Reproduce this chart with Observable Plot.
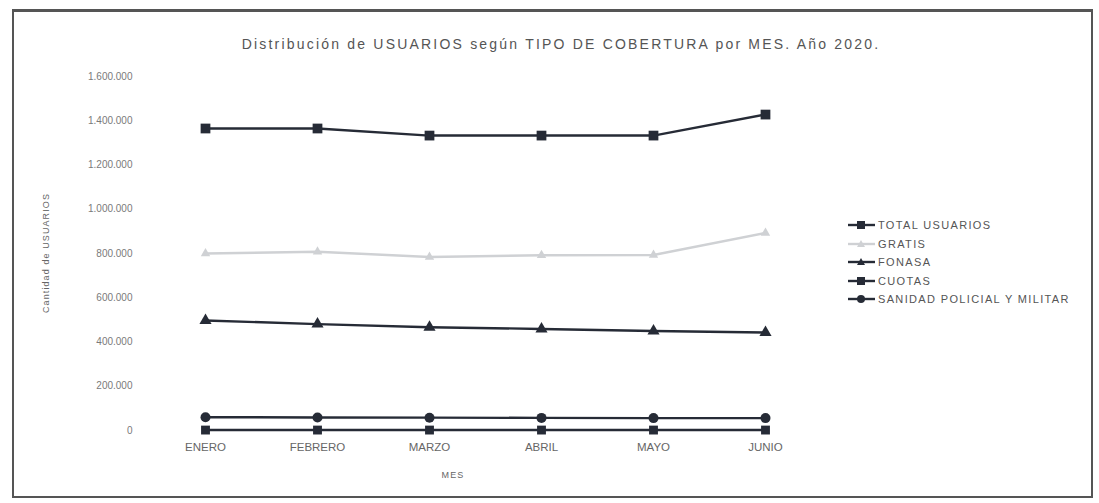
<!DOCTYPE html>
<html><head><meta charset="utf-8">
<script src="https://cdn.jsdelivr.net/npm/d3@7"></script>
<script src="https://cdn.jsdelivr.net/npm/@observablehq/plot@0.6"></script>
<style>
body{margin:0;background:#fff;font-family:"Liberation Sans",Arial,sans-serif;}
#wrap{position:relative;width:1099px;height:503px;overflow:hidden;}
#frame{position:absolute;left:12px;top:9px;width:1081px;height:489px;border:2px solid #555;border-top-width:3px;box-sizing:border-box;pointer-events:none;}
#title{position:absolute;left:0;width:1122px;top:36px;text-align:center;font-size:14px;letter-spacing:2.2px;color:#555;white-space:nowrap;}
#ytitle{position:absolute;left:46px;top:253px;transform:translate(-50%,-50%) rotate(-90deg);font-size:9px;letter-spacing:1.1px;color:#666;white-space:nowrap;}
#xtitle{position:absolute;left:453px;top:470px;transform:translateX(-50%);font-size:9px;letter-spacing:1.1px;color:#666;}
#legend{position:absolute;left:848px;top:216px;font-size:11px;letter-spacing:1.35px;color:#555;}
#legend div{height:18.5px;display:flex;align-items:center;white-space:nowrap;}
#legend svg{margin-right:3px;}
</style></head>
<body><div id="wrap"><div id="chart"></div><div id="title"></div><div id="ytitle"></div><div id="xtitle"></div><div id="legend"></div><div id="frame"></div></div>
<script>
const months = ["ENERO","FEBRERO","MARZO","ABRIL","MAYO","JUNIO"];
const seriesNames = ["TOTAL USUARIOS","GRATIS","FONASA","CUOTAS","SANIDAD POLICIAL Y MILITAR"];
const total   = [1365000,1365000,1333000,1333000,1333000,1428000];
const gratis  = [800000,808000,784000,792000,793000,893000];
const fonasa  = [497000,481000,467000,459000,450000,443000];
const cuotas  = [2000,2000,2000,2000,2000,2000];
const sanidad = [60000,59000,58000,57000,56000,56000];
const yTicks = [0,200000,400000,600000,800000,1000000,1200000,1400000,1600000];
const titleText = "Distribución de USUARIOS según TIPO DE COBERTURA por MES. Año 2020.";
const yTitle = "Cantidad de USUARIOS";
const xTitle = "MES";

const colors = {"TOTAL USUARIOS":"#262b36","GRATIS":"#cfd1d4","FONASA":"#262b36","CUOTAS":"#262b36","SANIDAD POLICIAL Y MILITAR":"#262b36"};
const symbols = {"TOTAL USUARIOS":"square","GRATIS":"triangle","FONASA":"triangle","CUOTAS":"square","SANIDAD POLICIAL Y MILITAR":"circle"};
const sizes = {"TOTAL USUARIOS":5.5,"GRATIS":3.5,"FONASA":4.5,"CUOTAS":5,"SANIDAD POLICIAL Y MILITAR":5};
const valuesBy = [total,gratis,fonasa,cuotas,sanidad];
const data = [];
seriesNames.forEach((s,i)=>months.forEach((m,j)=>data.push({serie:s,mes:m,v:valuesBy[i][j]})));

const loc = d3.formatLocale({decimal:",",thousands:".",grouping:[3],currency:["$",""]});
const fmt = loc.format(",d");

const chart = Plot.plot({
  width:1099, height:503,
  marginLeft:140, marginRight:291, marginTop:76, marginBottom:73,
  style:{fontFamily:"Liberation Sans, Arial, sans-serif", color:"#666", background:"transparent"},
  x:{type:"point", domain:months, range:[203,766], padding:0, label:null},
  y:{domain:[0,1600000], ticks:yTicks, label:null},
  marks:[
    Plot.ruleY(yTicks,{y:d=>d, x1:()=>140, x2:()=>808, stroke:"#e3e3e3", strokeWidth:1}),
    Plot.axisY({ticks:yTicks, tickFormat:fmt, tickSize:0, tickPadding:8, fontSize:10, fill:"#7a7a7a", label:null, style:{letterSpacing:"1.4px"}}),
    Plot.axisX({tickSize:0, tickPadding:12, fontSize:11.5, fill:"#666", label:null, style:{letterSpacing:"1.2px"}}),
    Plot.line(data,{x:"mes", y:"v", z:"serie", stroke:d=>colors[d.serie], strokeWidth:2.4}),
    ...seriesNames.map(s=>Plot.dot(data.filter(d=>d.serie===s),{x:"mes", y:"v", symbol:()=>symbols[s], r:sizes[s], fill:colors[s], stroke:"none"}))
  ]
});
document.getElementById("chart").appendChild(chart);
document.getElementById("title").textContent = titleText;
document.getElementById("ytitle").textContent = yTitle;
document.getElementById("xtitle").textContent = xTitle;

const leg = document.getElementById("legend");
seriesNames.forEach(s=>{
  const row = document.createElement("div");
  const c = colors[s];
  let mk;
  const sym = symbols[s];
  if(sym==="square") mk = `<rect x="9" y="3" width="8" height="8" fill="${c}"/>`;
  else if(sym==="triangle") mk = `<path d="M13 3 L17 10 L9 10 Z" fill="${c}"/>`;
  else mk = `<circle cx="13" cy="7" r="4" fill="${c}"/>`;
  row.innerHTML = `<svg width="27" height="14"><line x1="0" x2="27" y1="7" y2="7" stroke="${c}" stroke-width="2.4"/>${mk}</svg><span>${s}</span>`;
  leg.appendChild(row);
});
</script></body></html>
